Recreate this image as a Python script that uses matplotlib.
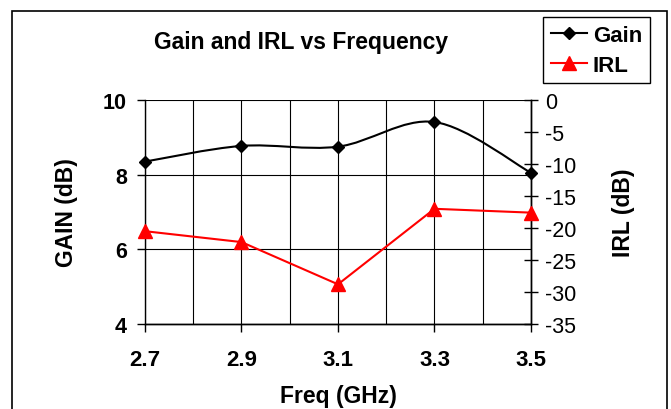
import numpy as np
import matplotlib
matplotlib.use("Agg")
import matplotlib.pyplot as plt
from matplotlib.path import Path
from matplotlib.patches import PathPatch, Rectangle
from matplotlib.lines import Line2D

plt.rcParams['font.family'] = ['Liberation Sans', 'DejaVu Sans']
plt.rcParams['axes.unicode_minus'] = False

freq = [2.7, 2.9, 3.1, 3.3, 3.5]
gain = [8.35, 8.77, 8.75, 9.41, 8.05]
irl = [-20.5, -22.2, -28.8, -17.0, -17.6]

x_ticks = [2.7, 2.9, 3.1, 3.3, 3.5]
gain_ticks = [4, 6, 8, 10]
irl_ticks = [0, -5, -10, -15, -20, -25, -30, -35]


def smooth_path(xs, ys):
  # Excel-like smoothed line : cubic Bezier through the points
  x = np.asarray(xs, float); y = np.asarray(ys, float)
  n = len(x)
  verts = [(x[0], y[0])]; codes = [Path.MOVETO]
  for i in range(n - 1):
    i0 = max(i - 1, 0); i3 = min(i + 2, n - 1)
    c1 = (x[i] + (x[i+1] - x[i0]) / 6, y[i] + (y[i+1] - y[i0]) / 6)
    c2 = (x[i+1] - (x[i3] - x[i]) / 6, y[i+1] - (y[i3] - y[i]) / 6)
    verts += [c1, c2, (x[i+1], y[i+1])]
    codes += [Path.CURVE4] * 3
  return Path(verts, codes)


fig = plt.figure(figsize=(6.71, 4.10), dpi=100)
fig.patches.append(Rectangle((12/671, -0.01), 655/671, 1 - 12/410 + 0.01,
                             transform=fig.transFigure, fill=False,
                             edgecolor='black', linewidth=1.2))

ax = fig.add_axes([145/671, 1 - 325/410, 386/671, 224/410])
ax2 = ax.twinx()

ax.set_xlim(2.7, 3.5)
ax.set_ylim(4, 10)
ax2.set_ylim(-35, 0)

ax.set_xticks(x_ticks)
ax.set_xticks(np.arange(2.7, 3.51, 0.1), minor=True)
ax.set_yticks(gain_ticks)
ax2.set_yticks(irl_ticks)

ax.grid(True, which='both', axis='x', color='black', linewidth=0.8)
ax.grid(True, which='major', axis='y', color='black', linewidth=0.8)
ax.tick_params(axis='x', which='minor', length=0)
ax.tick_params(axis='x', which='major', direction='out', length=6, width=1,
               labelsize=16, pad=12)
ax.tick_params(axis='y', direction='out', length=6, width=1, labelsize=15.5,
               pad=7)
ax2.tick_params(axis='y', direction='inout', length=10, width=1,
                labelsize=15.5, pad=5)
for lab in ax.get_xticklabels() + ax.get_yticklabels():
  lab.set_fontweight('bold')

for a in (ax, ax2):
  a.spines['top'].set_visible(False)
  for s in ('left', 'right', 'bottom'):
    a.spines[s].set_linewidth(1)
ax2.spines['left'].set_visible(False)

ax.add_patch(PathPatch(smooth_path(freq, gain), fill=False,
                       edgecolor='black', linewidth=1.5, zorder=3))
ax.plot(freq, gain, linestyle='none', marker='D', color='black',
        markersize=6.5, zorder=4, clip_on=False)
ax2.plot(freq, irl, color='red', linewidth=1.5, marker='^',
         markersize=9.5, zorder=4, clip_on=False)

ax.set_xlabel('Freq (GHz)', fontsize=16.5, fontweight='bold', labelpad=10)
ax.set_ylabel('GAIN (dB)', fontsize=16.5, fontweight='bold', labelpad=18)
ax2.set_ylabel('IRL (dB)', fontsize=16.5, fontweight='bold', labelpad=26,
               rotation=90)

fig.text(301/671, 1 - 43/410, 'Gain and IRL vs Frequency', fontsize=16.5,
         fontweight='bold', ha='center', va='center')

handles = [Line2D([], [], color='black', linewidth=1.5, marker='D', markersize=6.5),
           Line2D([], [], color='red', linewidth=1.5, marker='^', markersize=9.5)]
leg = fig.legend(handles, ['Gain', 'IRL'], loc='upper left',
                 bbox_to_anchor=(543/671, 1 - 18/410), fancybox=False,
                 framealpha=1, edgecolor='black', handlelength=1.62,
                 handletextpad=0.27, borderpad=0.35, borderaxespad=0,
                 labelspacing=0.4, prop={'size': 16, 'weight': 'bold'})
leg.get_frame().set_linewidth(1)

fig.savefig('out.png', dpi=100)
